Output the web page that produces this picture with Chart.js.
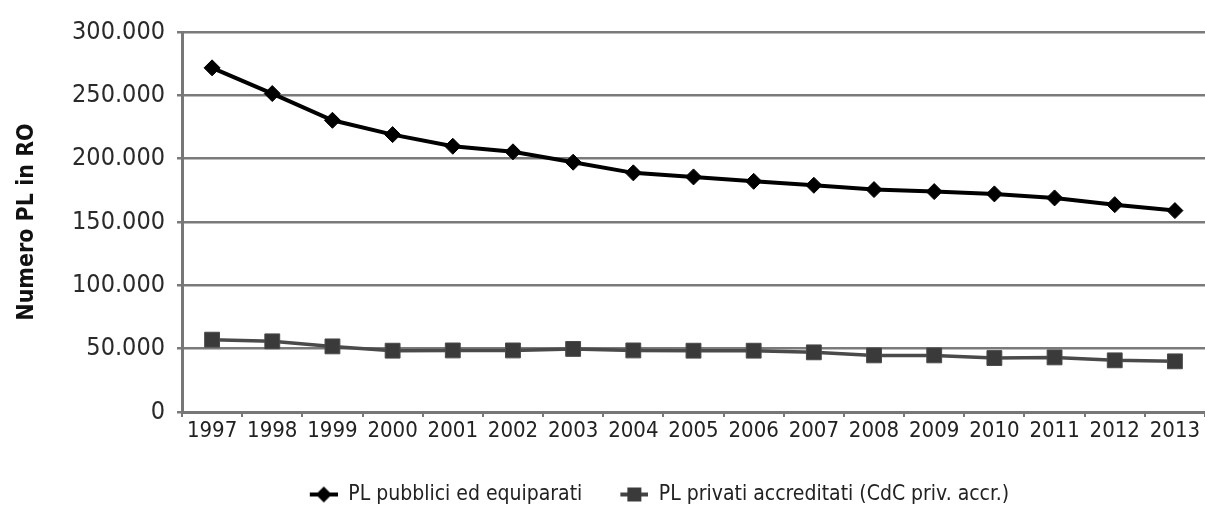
<!DOCTYPE html>
<html>
<head>
<meta charset="utf-8">
<script src="https://cdn.jsdelivr.net/npm/chart.js@4/dist/chart.umd.min.js"></script>
<style>
  html, body { margin: 0; padding: 0; background: #fff; }
  #wrap { width: 1205px; height: 509px; }
</style>
</head>
<body>
<div id="wrap"><canvas id="myChart" width="1205" height="509"></canvas></div>
<script>
// dati
var anni = ['1997', '1998', '1999', '2000', '2001', '2002', '2003', '2004', '2005',
    '2006', '2007', '2008', '2009', '2010', '2011', '2012', '2013']
var plPubblici = [271700, 251400, 230300, 219000, 209800, 205400, 197200, 188800, 185600,
    182100, 179000, 175600, 174000, 172200, 169000, 163700, 159000]
var plPrivati = [57100, 55800, 51800, 48400, 48600, 48600, 49800, 48600, 48400,
    48400, 47100, 44700, 44700, 42600, 43100, 40800, 40000]
var yTicks = [0, 50000, 100000, 150000, 200000, 250000, 300000]
var nomiSerie = ['PL pubblici ed equiparati', 'PL privati accreditati (CdC priv. accr.)']

var fontNarrow = "'DejaVu Sans Condensed', 'Liberation Sans Narrow', sans-serif"

function formatIt(v) {
    return String(v).replace(/\B(?=(\d{3})+(?!\d))/g, '.')
}

// icona linea + marker per la legenda (meta' sinistra vuota = spazio tra le voci)
function legendIcon(shape, lineColor, fillColor) {
    var c = document.createElement('canvas')
    c.width = 56
    c.height = 18
    var g = c.getContext('2d')
    g.strokeStyle = lineColor
    g.lineWidth = 4
    g.beginPath()
    g.moveTo(28, 9)
    g.lineTo(56, 9)
    g.stroke()
    g.fillStyle = fillColor
    g.beginPath()
    if (shape == 'diamond') {
        g.moveTo(42, 1); g.lineTo(50, 9); g.lineTo(42, 17); g.lineTo(34, 9)
    } else {
        g.rect(35, 2, 14, 14)
    }
    g.closePath()
    g.fill()
    return c
}

var icons = [legendIcon('diamond', '#000', '#000'), legendIcon('square', '#444', '#3a3a3a')]

// sposta la legenda come nell'originale
var legendShift = {
    id: 'legendShift',
    afterLayout: function (chart) {
        var lg = chart.legend
        lg.left = lg.left + 86
        lg.top = lg.top + 6
        lg.bottom = lg.bottom + 6
    }
}

var ctx = document.getElementById('myChart').getContext('2d')
var myChart = new Chart(ctx, {
    type: 'line',
    data: {
        labels: anni,
        datasets: [{
                label: nomiSerie[0],
                data: plPubblici,
                borderColor: '#000',
                backgroundColor: '#000',
                borderWidth: 4,
                pointStyle: 'rectRot',
                pointRadius: 8,
                pointBorderWidth: 1,
                tension: 0
            }, {
                label: nomiSerie[1],
                data: plPrivati,
                borderColor: '#4a4a4a',
                backgroundColor: '#3a3a3a',
                borderWidth: 3.5,
                pointStyle: 'rect',
                pointRadius: 10.5,
                pointBorderWidth: 1,
                tension: 0
            }]
    },
    plugins: [legendShift],
    options: {
        responsive: false,
        animation: false,
        layout: { autoPadding: false, padding: { left: 0, right: 0, top: 32, bottom: 0 } },
        plugins: {
            tooltip: { enabled: false },
            legend: {
                position: 'bottom',
                labels: {
                    usePointStyle: true,
                    pointStyleWidth: 56,
                    padding: 10,
                    color: '#222',
                    font: { family: fontNarrow, size: 21 },
                    generateLabels: function (chart) {
                        return chart.data.datasets.map(function (ds, i) {
                            return {
                                text: ds.label,
                                pointStyle: icons[i],
                                fillStyle: ds.backgroundColor,
                                strokeStyle: ds.borderColor,
                                lineWidth: 0,
                                hidden: false,
                                datasetIndex: i,
                                fontColor: '#222'
                            }
                        })
                    }
                }
            }
        },
        scales: {
            x: {
                offset: true,
                grid: {
                    offset: true,
                    drawOnChartArea: false,
                    drawTicks: true,
                    tickLength: 5,
                    color: '#777',
                    lineWidth: 2
                },
                border: { color: '#777', width: 3 },
                ticks: {
                    autoSkip: false,
                    maxRotation: 0,
                    padding: 1,
                    color: '#222',
                    font: { family: fontNarrow, size: 22 }
                },
                afterFit: function (scale) {
                    scale.height = 56
                    scale.paddingLeft = 0
                    scale.paddingRight = 0
                }
            },
            y: {
                min: 0,
                max: 300000,
                afterBuildTicks: function (scale) {
                    scale.ticks = yTicks.map(function (v) { return { value: v } })
                },
                afterFit: function (scale) {
                    scale.width = 182
                    scale.paddingTop = 0
                    scale.paddingBottom = 0
                },
                grid: {
                    color: '#7a7a7a',
                    lineWidth: 2.5,
                    tickLength: 5
                },
                border: { color: '#777', width: 3 },
                ticks: {
                    padding: 12,
                    color: '#2a2a2a',
                    font: { family: fontNarrow, size: 25 },
                    callback: function (v) { return formatIt(v) }
                },
                title: {
                    display: true,
                    text: 'Numero PL in RO',
                    color: '#111',
                    padding: { top: 13, bottom: 0 },
                    font: { family: fontNarrow, size: 23, weight: 'bold' }
                }
            }
        }
    }
})
</script>
</body>
</html>
